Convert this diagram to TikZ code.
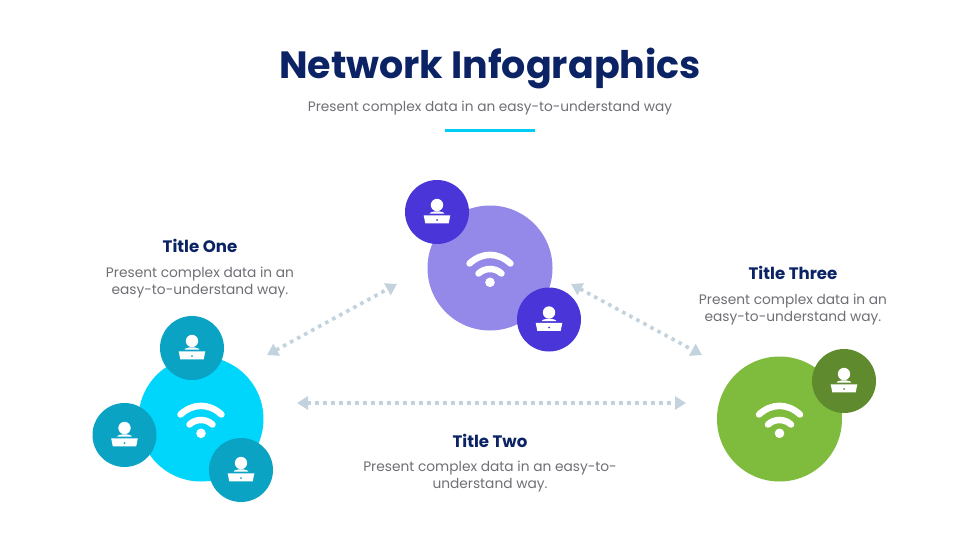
\documentclass[tikz,border=0pt]{standalone}
\usepackage{fontspec}
\setmainfont{Poppins}
\usetikzlibrary{arrows.meta}
\definecolor{navy}{HTML}{0B2265}
\definecolor{bodygray}{HTML}{6F6F76}
\definecolor{accent}{HTML}{00CDF5}
\definecolor{linkc}{HTML}{C3D3DE}
\definecolor{purpleA}{HTML}{9488E8}
\definecolor{purpleB}{HTML}{4A35D8}
\definecolor{cyanA}{HTML}{00D5FB}
\definecolor{cyanB}{HTML}{0BA3C4}
\definecolor{greenA}{HTML}{7FBB3C}
\definecolor{greenB}{HTML}{5F8B2E}
\tikzset{
  x=1pt,y=-1pt,
  hub/.style={circle,minimum size=125pt,inner sep=0pt,fill=#1},
  client/.style={circle,minimum size=64pt,inner sep=0pt,fill=#1},
  heading/.style={font=\fontsize{16.6}{20}\selectfont\bfseries,text=navy,align=center},
  bodytext/.style={font=\fontsize{13.75}{17}\selectfont,text=bodygray,align=center},
  link/.style={draw=linkc,line width=3.6pt,dash pattern=on 3.6pt off 4.4pt,
    {Triangle[length=11pt,width=13pt,fill=linkc]}-{Triangle[length=11pt,width=13pt,fill=linkc]}},
  pics/person/.style={code={
    \fill[white] (0,-7) circle (6.2);
    \fill[white] (-7.3,1.6) .. controls (-6.8,-1.4) and (6.8,-1.4) .. (7.3,1.6) -- cycle;
    \fill[white] (-13.3,3.4) -- (13.3,3.4) -- (11.7,11.3) -- (-11.7,11.3) -- cycle;
    \fill[#1] (0,8) circle (1);
  }},
  pics/wifi/.style={code={
    \draw[white,line width=6.5pt,line cap=round] (-20.5,-4.5) .. controls (-8,-16) and (8,-16) .. (20.5,-4.5);
    \draw[white,line width=6.5pt,line cap=round] (-11.5,5.5) .. controls (-5,-0.5) and (5,-0.5) .. (11.5,5.5);
    \fill[white] (0,14.3) circle (4.8);
  }}
}
\begin{document}
\begin{tikzpicture}
\useasboundingbox (0,0) rectangle (980,551);
\fill[white] (0,0) rectangle (980,551);
\node[font=\fontsize{38}{46}\selectfont\bfseries,text=navy] (title) at (490,69) {Network Infographics};
\node[font=\fontsize{13.7}{17}\selectfont,text=bodygray] (subtitle) at (490,108) {Present complex data in an easy-to-understand way};
\fill[accent] (445,128.5) rectangle (535,131.5);

% connectors
\coordinate (aL) at (267,355); \coordinate (aR) at (397,284);
\coordinate (bL) at (297,403); \coordinate (bR) at (686,403);
\coordinate (cL) at (571,284); \coordinate (cR) at (702,355);
\draw[link] (aL) -- (aR);
\draw[link] (bL) -- (bR);
\draw[link] (cL) -- (cR);

% purple cluster
\node[hub=purpleA] (hubP) at (490,268) {};
\pic at (hubP.center) {wifi};
\node[client=purpleB] (p1) at (437,212) {};
\pic at (p1.center) {person=purpleB};
\node[client=purpleB] (p2) at (549,319.5) {};
\pic at (p2.center) {person=purpleB};

% cyan cluster
\node[hub=cyanA] (hubC) at (201,419) {};
\pic at (hubC.center) {wifi};
\node[client=cyanB] (c1) at (192,348) {};
\pic at (c1.center) {person=cyanB};
\node[client=cyanB] (c2) at (124.5,435) {};
\pic at (c2.center) {person=cyanB};
\node[client=cyanB] (c3) at (241,470) {};
\pic at (c3.center) {person=cyanB};

% green cluster
\node[hub=greenA] (hubG) at (779.5,419) {};
\pic at (hubG.center) {wifi};
\node[client=greenB] (g1) at (844,381) {};
\pic at (g1.center) {person=greenB};

% labels
\node[heading] (t1) at (200,246) {Title One};
\node[bodytext] (d1) at (200,282.5) {Present complex data in an\\easy-to-understand way.};
\node[heading] (t3) at (793,273) {Title Three};
\node[bodytext] (d3) at (793,309.5) {Present complex data in an\\easy-to-understand way.};
\node[heading] (t2) at (490,441) {Title Two};
\node[bodytext] (d2) at (490,476.5) {Present complex data in an easy-to-\\understand way.};
\end{tikzpicture}
\end{document}
